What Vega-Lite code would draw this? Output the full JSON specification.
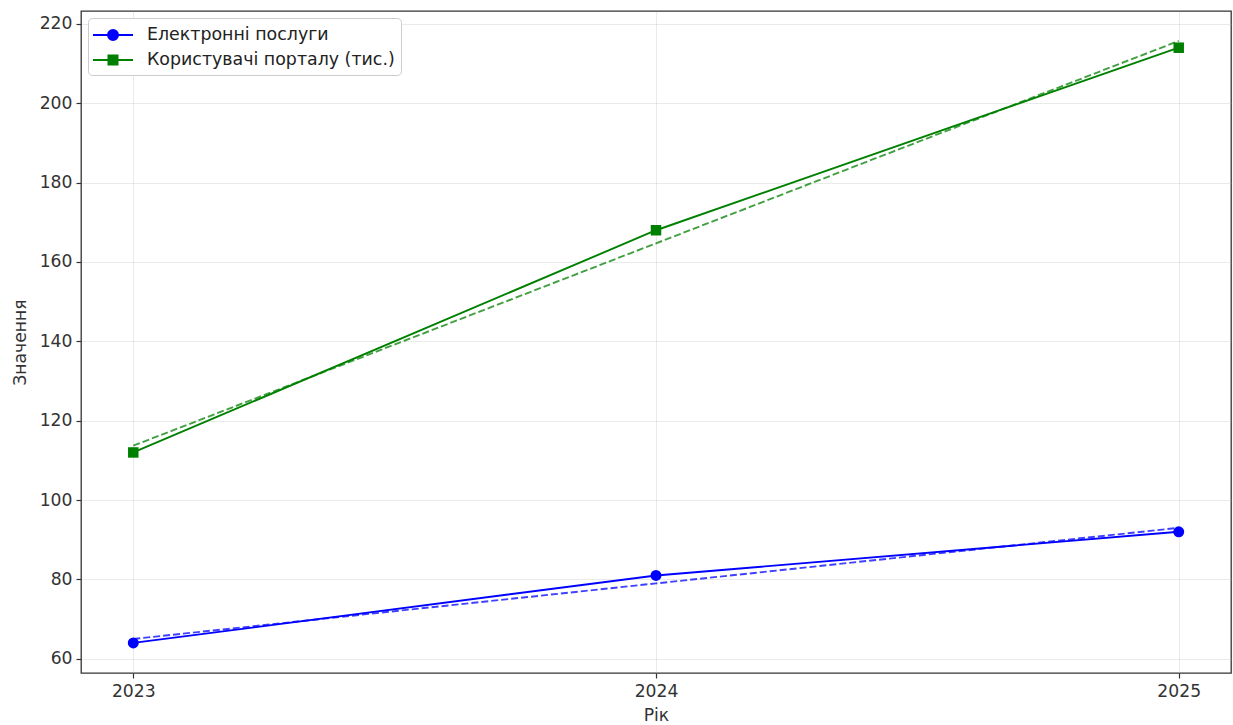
{
  "$schema": "https://vega.github.io/schema/vega-lite/v6.json",
  "width": 1150,
  "height": 662,
  "autosize": {"type": "none"},
  "padding": {"left": 81, "top": 11, "right": 2, "bottom": 52},
  "background": "white",
  "config": {
    "font": "DejaVu Sans",
    "view": {"stroke": "#333333", "strokeWidth": 1.3},
    "axis": {
      "grid": true,
      "gridColor": "#b0b0b0",
      "gridOpacity": 0.27,
      "gridWidth": 1,
      "domain": false,
      "tickColor": "#333333",
      "tickSize": 5,
      "tickWidth": 1.2,
      "labelFontSize": 17.2,
      "labelColor": "#333333",
      "labelPadding": 4,
      "titleFontSize": 17.2,
      "titleFontWeight": "normal",
      "titleColor": "#333333"
    }
  },
  "data": {
    "values": [
      {"year": 2023, "series": "Електронні послуги", "value": 64, "trend": 65},
      {"year": 2024, "series": "Електронні послуги", "value": 81, "trend": 79},
      {"year": 2025, "series": "Електронні послуги", "value": 92, "trend": 93},
      {"year": 2023, "series": "Користувачі порталу (тис.)", "value": 112, "trend": 113.7},
      {"year": 2024, "series": "Користувачі порталу (тис.)", "value": 168, "trend": 164.7},
      {"year": 2025, "series": "Користувачі порталу (тис.)", "value": 214, "trend": 215.7}
    ]
  },
  "encoding": {
    "x": {
      "field": "year",
      "type": "quantitative",
      "title": "Рік",
      "scale": {"domain": [2022.9, 2025.1], "nice": false, "zero": false},
      "axis": {"values": [2023, 2024, 2025], "format": "d", "titlePadding": 7}
    }
  },
  "layer": [
    {
      "mark": {"type": "point", "filled": true, "opacity": 0, "size": 400},
      "encoding": {
        "y": {
          "field": "value",
          "type": "quantitative",
          "title": "Значення",
          "scale": {"domain": [56.42, 223.25], "nice": false, "zero": false},
          "axis": {"values": [60, 80, 100, 120, 140, 160, 180, 200, 220], "titlePadding": 10}
        },
        "color": {
          "field": "series",
          "type": "nominal",
          "scale": {"domain": ["Електронні послуги", "Користувачі порталу (тис.)"], "range": ["#0000ff", "#008000"]},
          "legend": {
            "title": null,
            "orient": "top-left",
            "offset": 7,
            "padding": 6,
            "symbolOffset": 8,
            "labelOffset": 23,
            "labelLimit": 500,
            "rowPadding": 5,
            "labelFontSize": 17.4,
            "labelColor": "#222222",
            "strokeColor": "#cccccc",
            "fillColor": "white",
            "cornerRadius": 4,
            "symbolSize": 400,
            "symbolStrokeWidth": 2,
            "symbolOpacity": 1
          }
        },
        "shape": {
          "field": "series",
          "type": "nominal",
          "scale": {
            "domain": ["Електронні послуги", "Користувачі порталу (тис.)"],
            "range": [
              "M-2,0H2M0.5,0A0.5,0.5,0,1,1,-0.5,0A0.5,0.5,0,1,1,0.5,0Z",
              "M-2,0H2M-0.45,-0.45H0.45V0.45H-0.45Z"
            ]
          },
          "legend": {
            "title": null,
            "orient": "top-left",
            "offset": 7,
            "padding": 6,
            "symbolOffset": 8,
            "labelOffset": 23,
            "labelLimit": 500,
            "rowPadding": 5,
            "labelFontSize": 17.4,
            "labelColor": "#222222",
            "strokeColor": "#cccccc",
            "fillColor": "white",
            "cornerRadius": 4,
            "symbolSize": 400,
            "symbolStrokeWidth": 2,
            "symbolOpacity": 1
          }
        }
      }
    },
    {
      "mark": {"type": "line", "strokeWidth": 1.9, "strokeDash": [7, 3], "opacity": 0.75},
      "encoding": {
        "y": {"field": "trend", "type": "quantitative"},
        "color": {"field": "series", "type": "nominal", "legend": null}
      }
    },
    {
      "mark": {"type": "line", "strokeWidth": 1.9},
      "encoding": {
        "y": {"field": "value", "type": "quantitative"},
        "color": {"field": "series", "type": "nominal", "legend": null}
      }
    },
    {
      "transform": [{"filter": "datum.series === 'Електронні послуги'"}],
      "mark": {"type": "point", "shape": "circle", "filled": true, "opacity": 1, "size": 120},
      "encoding": {
        "y": {"field": "value", "type": "quantitative"},
        "color": {"field": "series", "type": "nominal", "legend": null}
      }
    },
    {
      "transform": [{"filter": "datum.series !== 'Електронні послуги'"}],
      "mark": {"type": "point", "shape": "square", "filled": true, "opacity": 1, "size": 110},
      "encoding": {
        "y": {"field": "value", "type": "quantitative"},
        "color": {"field": "series", "type": "nominal", "legend": null}
      }
    }
  ]
}
